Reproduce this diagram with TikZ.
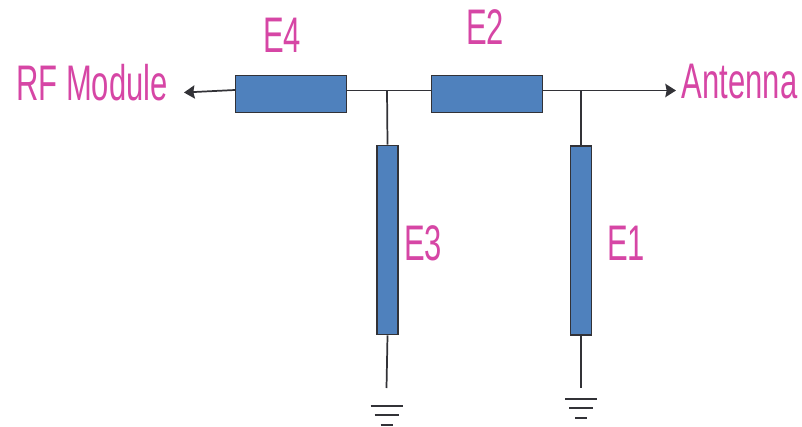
\documentclass[tikz,border=0pt]{standalone}
\usepackage{fontspec}
\setmainfont{Liberation Sans}
\newfontfamily\lblfont[FakeStretch=0.62]{Liberation Sans}
\usepackage{tikz}
\usetikzlibrary{arrows.meta}
\definecolor{myblue}{RGB}{79,129,189}
\definecolor{mypink}{RGB}{214,70,165}
\definecolor{myline}{RGB}{50,50,55}
\tikzset{
	hline/.style={draw=myline, fill=myblue, line width=1.2pt, minimum width=83pt, minimum height=27.5pt, inner sep=0pt},
	vline/.style={draw=myline, fill=myblue, line width=1.2pt, minimum width=15.5pt, minimum height=142pt, inner sep=0pt},
	wire/.style={draw=myline, line width=1.3pt},
	gnd/.style={draw=myline, line width=1.6pt},
	tip/.style={-{Stealth[length=8pt,width=10pt,inset=1pt]}},
	lbl/.style={text=mypink, font=\lblfont\fontsize{37.5}{37.5}\selectfont, inner sep=0pt}
}
\begin{document}
\begin{tikzpicture}[x=0.75pt,y=-0.75pt]
	\useasboundingbox (0,0) rectangle (802,427);
	
	% Draw the stubs and sections
	\node[hline] (efour) at (291,94) {};
	\node[hline] (etwo) at (487,94) {};
	\node[vline] (ethree) at (387.5,240) {};
	\node[vline] (eone) at (581,240.5) {};
	
	% Free ends
	\coordinate (left) at (184,92.5);
	\coordinate (lstart) at (235,90);
	\coordinate (right) at (676,90.5);
	\coordinate (gthree) at (386.5,388);
	\coordinate (gone) at (581,388);
	\coordinate (jthree) at (387,90.5);
	\coordinate (jone) at (581,90.5);
	
	% Draw the wires
	\draw[wire,tip] (lstart) -- (left);
	\draw[wire] (efour.east |- jthree) -- (etwo.west |- jthree);
	\draw[wire,tip] (etwo.east |- jone) -- (right);
	\draw[wire] (jthree) -- (ethree.north);
	\draw[wire] (jone) -- (eone.north);
	\draw[wire] (ethree.south) -- (gthree);
	\draw[wire] (eone.south) -- (gone);
	
	% Ground symbols
	\foreach \g/\d in {gthree/18,gone/11} {
		\draw[gnd] ([xshift=-12pt,yshift=-\d*0.75pt]\g) -- ([xshift=12pt,yshift=-\d*0.75pt]\g);
		\draw[gnd] ([xshift=-9pt,yshift=-\d*0.75pt-7pt]\g) -- ([xshift=9pt,yshift=-\d*0.75pt-7pt]\g);
		\draw[gnd] ([xshift=-4.5pt,yshift=-\d*0.75pt-14.5pt]\g) -- ([xshift=4.5pt,yshift=-\d*0.75pt-14.5pt]\g);
	}
	
	% Label the parts
	\node[lbl] (rf) at (92,83) {RF Module};
	\node[lbl] (ant) at (739.5,82) {Antenna};
	\node[lbl] (lfour) at (282,35) {E4};
	\node[lbl] (ltwo) at (485,27) {E2};
	\node[lbl] (lthree) at (423,243.5) {E3};
	\node[lbl] (lone) at (626,243.5) {E1};
\end{tikzpicture}
\end{document}
